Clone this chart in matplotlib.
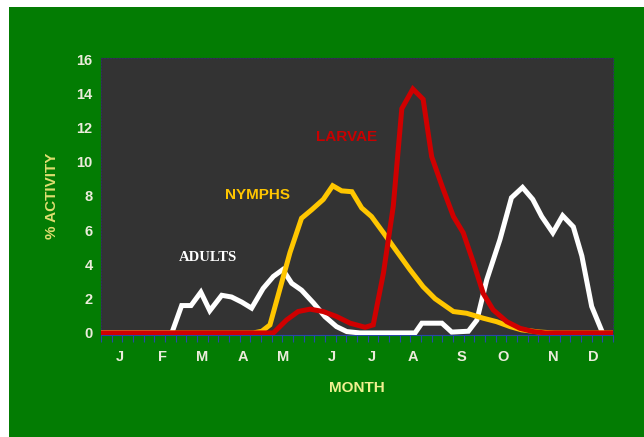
import matplotlib.pyplot as plt
from matplotlib.patches import Rectangle

plt.rcParams['font.family'] = ['Liberation Sans', 'DejaVu Sans']

# --- data (x in months from start of Jan, y in % activity) ---
months = ['J', 'F', 'M', 'A', 'M', 'J', 'J', 'A', 'S', 'O', 'N', 'D']
month_pos = [0.45, 1.43, 2.37, 3.33, 4.27, 5.41, 6.35, 7.31, 8.46, 9.42, 10.59, 11.53]

adults_x = [0.0, 1.66, 1.89, 2.11, 2.34, 2.55, 2.83, 3.06, 3.30, 3.53, 3.80, 4.04, 4.26,
            4.47, 4.70, 4.98, 5.25, 5.52, 5.76, 6.07, 7.36, 7.52, 7.99, 8.22, 8.61, 8.81,
            9.04, 9.35, 9.62, 9.88, 10.12, 10.33, 10.59, 10.82, 11.07, 11.27, 11.50, 11.74]
adults_y = [0.0, 0.0, 1.6, 1.6, 2.38, 1.3, 2.2, 2.1, 1.8, 1.45, 2.6, 3.3, 3.7,
            2.9, 2.5, 1.75, 0.95, 0.37, 0.08, 0.0, 0.0, 0.57, 0.57, 0.05, 0.1, 0.75,
            3.1, 5.45, 7.9, 8.5, 7.8, 6.8, 5.85, 6.85, 6.2, 4.5, 1.55, 0.1]

nymphs_x = [0.0, 3.57, 3.77, 3.96, 4.43, 4.70, 4.94, 5.21, 5.43, 5.64, 5.88, 6.11, 6.34,
            6.62, 6.93, 7.24, 7.55, 7.83, 8.26, 8.57, 8.96, 9.27, 9.59, 9.86, 10.29, 10.64, 12.0]
nymphs_y = [0.0, 0.0, 0.1, 0.47, 4.7, 6.7, 7.2, 7.8, 8.6, 8.3, 8.25, 7.3, 6.8,
            5.85, 4.77, 3.7, 2.7, 2.0, 1.25, 1.15, 0.86, 0.66, 0.37, 0.18, 0.05, 0.0, 0.0]

larvae_x = [0.0, 4.04, 4.35, 4.62, 4.90, 5.21, 5.52, 5.84, 6.19, 6.38, 6.62, 6.85, 7.05,
            7.31, 7.55, 7.75, 7.99, 8.26, 8.49, 8.73, 8.96, 9.19, 9.51, 9.82, 10.13, 10.41, 12.0]
larvae_y = [0.0, 0.0, 0.76, 1.25, 1.39, 1.25, 0.96, 0.57, 0.33, 0.47, 3.5, 7.4, 13.1,
            14.25, 13.65, 10.3, 8.6, 6.8, 5.85, 4.1, 2.3, 1.35, 0.66, 0.27, 0.08, 0.0, 0.0]

GREEN = '#037c03'
PALE = '#ececdc'

fig = plt.figure(figsize=(6.44, 4.37), dpi=100)
fig.patch.set_facecolor('white')
fig.patches.append(Rectangle((9 / 644, 0), 1 - 9 / 644, 1 - 7 / 437,
                             transform=fig.transFigure, facecolor=GREEN,
                             edgecolor='none', zorder=-10))

ax = fig.add_axes([101 / 644, 1 - 335 / 437, 512 / 644, 277 / 437])
ax.set_facecolor('#333333')

ax.plot(adults_x, adults_y, color='white', lw=3.6, solid_joinstyle='miter', zorder=3)
ax.plot(nymphs_x, nymphs_y, color='#ffc600', lw=3.6, solid_joinstyle='miter', zorder=4)
ax.plot(larvae_x, larvae_y, color='#d00000', lw=3.6, solid_joinstyle='miter', zorder=5)

ax.set_xlim(0, 12)
ax.set_ylim(-0.12, 16.06)

ax.set_yticks(range(0, 17, 2))
ax.tick_params(axis='y', length=0, pad=6, labelsize=10.5, labelcolor=PALE)
for lab in ax.get_yticklabels():
    lab.set_fontweight('bold')

ax.set_xticks([i * 0.25 for i in range(49)])
ax.set_xticklabels([])
ax.tick_params(axis='x', length=5, width=0.8, color='#2848a8', direction='out')

for m, p in zip(months, month_pos):
    ax.text(p, -1.4, m, ha='center', va='center', fontsize=10.5, fontweight='bold',
            color=PALE)

for s in ['top', 'right', 'left']:
    ax.spines[s].set_color('#30305a')
    ax.spines[s].set_linestyle(':')
    ax.spines[s].set_linewidth(0.8)
ax.spines['bottom'].set_color('#2848a8')
ax.spines['bottom'].set_linewidth(0.8)

ax.text(2.5, 4.38, 'ADULTS', ha='center', va='center', fontsize=10.5,
        fontfamily='Liberation Serif', fontweight='bold', color='white')
ax.text(3.67, 8.06, 'NYMPHS', ha='center', va='center', fontsize=11,
        fontweight='bold', color='#ffc600')
ax.text(5.76, 11.45, 'LARVAE', ha='center', va='center', fontsize=11,
        fontweight='bold', color='#c80000')

fig.text(357 / 644, 1 - 388 / 437, 'MONTH', ha='center', va='center', fontsize=11,
         fontweight='bold', color='#f0f090')
fig.text(52 / 644, 1 - 196 / 437, '% ACTIVITY', ha='center', va='center', fontsize=11,
         fontweight='bold', color='#dede70', rotation=90)

plt.savefig('out.png', dpi=100)
